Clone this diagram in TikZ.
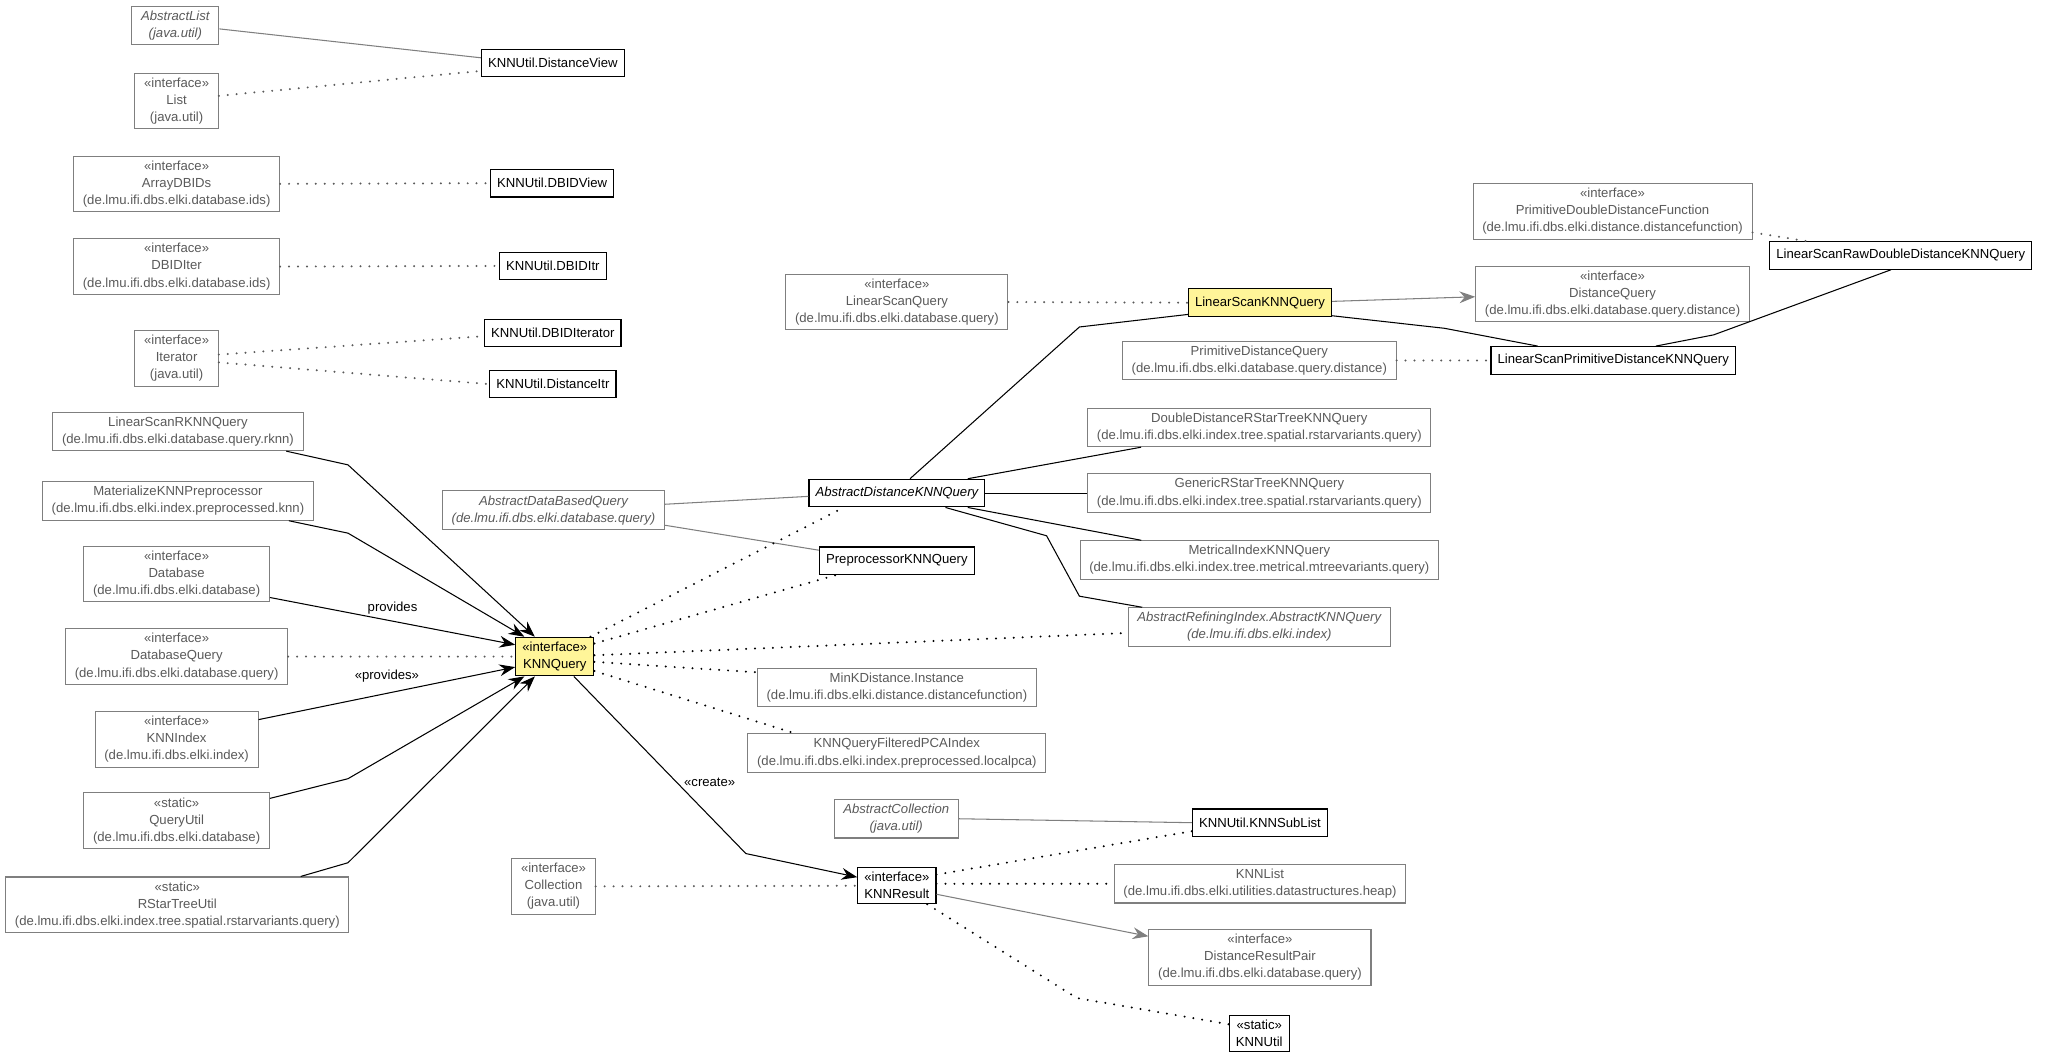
\documentclass[tikz,border=0pt]{standalone}
\usepackage{fontspec}
\setmainfont{Liberation Sans}
\usetikzlibrary{arrows.meta, positioning}
\definecolor{knnyellow}{HTML}{FFF599}
\definecolor{extgray}{HTML}{7F7F7F}
\definecolor{exttext}{HTML}{5A5A5A}
\newcommand{\umlfont}{\fontsize{10}{13}\selectfont}

\begin{document}
\begin{tikzpicture}[x=1pt, y=-1pt,
    cls/.style={draw=black, line width=0.9pt, fill=white, text=black, align=center, font=\umlfont, inner xsep=5pt, inner ysep=3.5pt, minimum height=21pt},
    ext/.style={cls, draw=extgray, line width=0.8pt, text=exttext, inner xsep=7pt},
    hl/.style={cls, fill=knnyellow},
    abs/.style={font=\umlfont\itshape},
    gen/.style={draw=black, line width=0.8pt},
    extgen/.style={draw=extgray, line width=0.8pt},
    real/.style={draw=black, line width=1.7pt, line cap=round, dash pattern=on 0pt off 6.8pt},
    extreal/.style={real, draw=exttext},
    dep/.style={gen, -{Stealth[length=12pt, width=9pt, inset=4pt]}},
    extdep/.style={extgen, -{Stealth[length=12pt, width=9pt, inset=4pt]}},
    lbl/.style={font=\umlfont, text=black, inner sep=2pt}]
\useasboundingbox (0,0) rectangle (1568,807);

\node[ext, abs] (al) at (133.5,19.5) {AbstractList\\(java.util)};
\node[ext] (lst) at (134.5,77) {«interface»\\List\\(java.util)};
\node[cls] (dv) at (421,48) {KNNUtil.DistanceView};
\node[ext] (adb) at (134.5,140) {«interface»\\ArrayDBIDs\\(de.lmu.ifi.dbs.elki.database.ids)};
\node[cls] (dbv) at (420.5,139.5) {KNNUtil.DBIDView};
\node[ext] (dbi) at (134.5,203) {«interface»\\DBIDIter\\(de.lmu.ifi.dbs.elki.database.ids)};
\node[cls] (dbitr) at (421,202.5) {KNNUtil.DBIDItr};
\node[ext] (it) at (134.5,273) {«interface»\\Iterator\\(java.util)};
\node[cls] (dbiter) at (421,253.5) {KNNUtil.DBIDIterator};
\node[cls] (ditr) at (421,292.5) {KNNUtil.DistanceItr};

\node[ext] (lsr) at (135.5,328.5) {LinearScanRKNNQuery\\(de.lmu.ifi.dbs.elki.database.query.rknn)};
\node[ext] (mat) at (135.5,381.5) {MaterializeKNNPreprocessor\\(de.lmu.ifi.dbs.elki.index.preprocessed.knn)};
\node[ext] (db) at (134.5,437) {«interface»\\Database\\(de.lmu.ifi.dbs.elki.database)};
\node[ext] (dq) at (134.5,500) {«interface»\\DatabaseQuery\\(de.lmu.ifi.dbs.elki.database.query)};
\node[ext] (ki) at (134.5,563) {«interface»\\KNNIndex\\(de.lmu.ifi.dbs.elki.index)};
\node[ext] (qu) at (134.5,625) {«static»\\QueryUtil\\(de.lmu.ifi.dbs.elki.database)};
\node[ext] (rs) at (135,689) {«static»\\RStarTreeUtil\\(de.lmu.ifi.dbs.elki.index.tree.spatial.rstarvariants.query)};

\node[hl] (kq) at (422.5,500) {«interface»\\KNNQuery};
\node[ext, abs] (adbq) at (421.5,388.5) {AbstractDataBasedQuery\\(de.lmu.ifi.dbs.elki.database.query)};
\node[cls, abs] (adk) at (683,375.5) {AbstractDistanceKNNQuery};
\node[cls] (pkq) at (683,427) {PreprocessorKNNQuery};
\node[ext] (lsq) at (683,230) {«interface»\\LinearScanQuery\\(de.lmu.ifi.dbs.elki.database.query)};
\node[hl] (lsk) at (959.5,230.5) {LinearScanKNNQuery};
\node[ext] (pdq) at (959,274.5) {PrimitiveDistanceQuery\\(de.lmu.ifi.dbs.elki.database.query.distance)};
\node[ext] (dd) at (959,325.5) {DoubleDistanceRStarTreeKNNQuery\\(de.lmu.ifi.dbs.elki.index.tree.spatial.rstarvariants.query)};
\node[ext] (gr) at (959,375.5) {GenericRStarTreeKNNQuery\\(de.lmu.ifi.dbs.elki.index.tree.spatial.rstarvariants.query)};
\node[ext] (mi) at (959,426.5) {MetricalIndexKNNQuery\\(de.lmu.ifi.dbs.elki.index.tree.metrical.mtreevariants.query)};
\node[ext, abs] (ari) at (959,477.5) {AbstractRefiningIndex.AbstractKNNQuery\\(de.lmu.ifi.dbs.elki.index)};
\node[ext] (mink) at (683,523.5) {MinKDistance.Instance\\(de.lmu.ifi.dbs.elki.distance.distancefunction)};
\node[ext] (pca) at (683,573.5) {KNNQueryFilteredPCAIndex\\(de.lmu.ifi.dbs.elki.index.preprocessed.localpca)};

\node[ext] (pddf) at (1228,161) {«interface»\\PrimitiveDoubleDistanceFunction\\(de.lmu.ifi.dbs.elki.distance.distancefunction)};
\node[ext] (dsq) at (1228,224) {«interface»\\DistanceQuery\\(de.lmu.ifi.dbs.elki.database.query.distance)};
\node[cls] (lrd) at (1447.5,194.5) {LinearScanRawDoubleDistanceKNNQuery};
\node[cls] (lpd) at (1228.5,274.5) {LinearScanPrimitiveDistanceKNNQuery};

\node[ext, abs] (ac) at (682.5,623.5) {AbstractCollection\\(java.util)};
\node[cls] (ksl) at (959.5,626.5) {KNNUtil.KNNSubList};
\node[ext] (col) at (421.5,675) {«interface»\\Collection\\(java.util)};
\node[cls] (kr) at (683,674.5) {«interface»\\KNNResult};
\node[ext] (kl) at (959.5,673) {KNNList\\(de.lmu.ifi.dbs.elki.utilities.datastructures.heap)};
\node[ext] (drp) at (959.5,729) {«interface»\\DistanceResultPair\\(de.lmu.ifi.dbs.elki.database.query)};
\node[cls] (ku) at (959,787) {«static»\\KNNUtil};

\draw[extgen] ([yshift=-2.5pt]al.east) -- ([yshift=4pt]dv.west);
\draw[extreal] ([yshift=4pt]lst.east) -- ([yshift=-6pt]dv.west);
\draw[extreal] (adb.east) -- (dbv.west);
\draw[extreal] (dbi.east) -- (dbitr.west);
\draw[extreal] ([yshift=3pt]it.east) -- ([yshift=-2.5pt]dbiter.west);
\draw[extreal] ([yshift=-3pt]it.east) -- (ditr.west);

\draw[dep] ([xshift=82.5pt]lsr.south) -- (265,354) -- ([xshift=15pt]kq.north west);
\draw[dep] ([xshift=84.5pt]mat.south) -- (265,406) -- ([xshift=7pt]kq.north west);
\draw[dep] ([yshift=-18pt]db.east) -- node[lbl, above=3pt] {provides} ([yshift=9pt]kq.west);
\draw[extreal] (dq.east) -- (kq.west);
\draw[dep] ([yshift=15pt]ki.east) -- node[lbl, above=6pt] {«provides»} ([yshift=-8pt]kq.west);
\draw[dep] ([yshift=17pt]qu.east) -- (265,593) -- ([xshift=7pt]kq.south west);
\draw[dep] ([xshift=94pt]rs.north) -- (265,657) -- ([xshift=15pt]kq.south west);
\draw[dep] ([xshift=14.5pt]kq.south) -- node[lbl, pos=0.6, right=3pt] {«create»} (568,650) -- ([yshift=6.5pt]kr.west);

\draw[extgen] ([yshift=4.5pt]adbq.east) -- ([yshift=-2.5pt]adk.west);
\draw[extgen] ([yshift=-11.5pt]adbq.east) -- ([yshift=8pt]pkq.west);
\draw[real] ([xshift=-3pt]kq.north east) -- ([xshift=27pt]adk.south west);
\draw[real] ([yshift=10pt]kq.east) -- ([xshift=13pt]pkq.south west);
\draw[real] ([yshift=1pt]kq.east) -- ([yshift=-4.5pt]ari.west);
\draw[real] ([yshift=-4pt]kq.east) -- ([yshift=11.5pt]mink.west);
\draw[real] ([yshift=-11pt]kq.east) -- ([xshift=36pt]pca.north west);

\draw[gen] ([xshift=10pt]adk.north) -- (822,249) -- ([yshift=2pt]lsk.south west);
\draw[gen] ([xshift=54pt]adk.north) -- ([xshift=41pt]dd.south west);
\draw[gen] (adk.east) -- (gr.west);
\draw[gen] ([xshift=54pt]adk.south) -- ([xshift=47pt]mi.north west);
\draw[gen] ([xshift=37pt]adk.south) -- (797,408) -- (822,454) -- ([xshift=11pt]ari.north west);

\draw[extreal] (lsq.east) -- (lsk.west);
\draw[extdep] ([yshift=1pt]lsk.east) -- ([yshift=-2pt]dsq.west);
\draw[gen] ([yshift=1pt]lsk.south east) -- (1100,250) -- ([xshift=36pt]lpd.north west);
\draw[extreal] (pdq.east) -- (lpd.west);
\draw[gen] ([xshift=126pt]lpd.north west) -- (1305,255) -- ([xshift=-7.5pt]lrd.south);
\draw[extreal] ([yshift=-16pt]pddf.east) -- ([xshift=28pt]lrd.north west);

\draw[extgen] (ac.east) -- (ksl.west);
\draw[real] ([yshift=8.5pt]kr.east) -- ([yshift=-6.5pt]ksl.west);
\draw[extreal] (col.east) -- (kr.west);
\draw[real] ([yshift=1.5pt]kr.east) -- (kl.west);
\draw[extdep] ([yshift=-6.5pt]kr.east) -- ([yshift=16pt]drp.west);
\draw[real] ([xshift=-7pt]kr.south east) -- (820,760) -- ([yshift=7pt]ku.west);
\end{tikzpicture}
\end{document}
